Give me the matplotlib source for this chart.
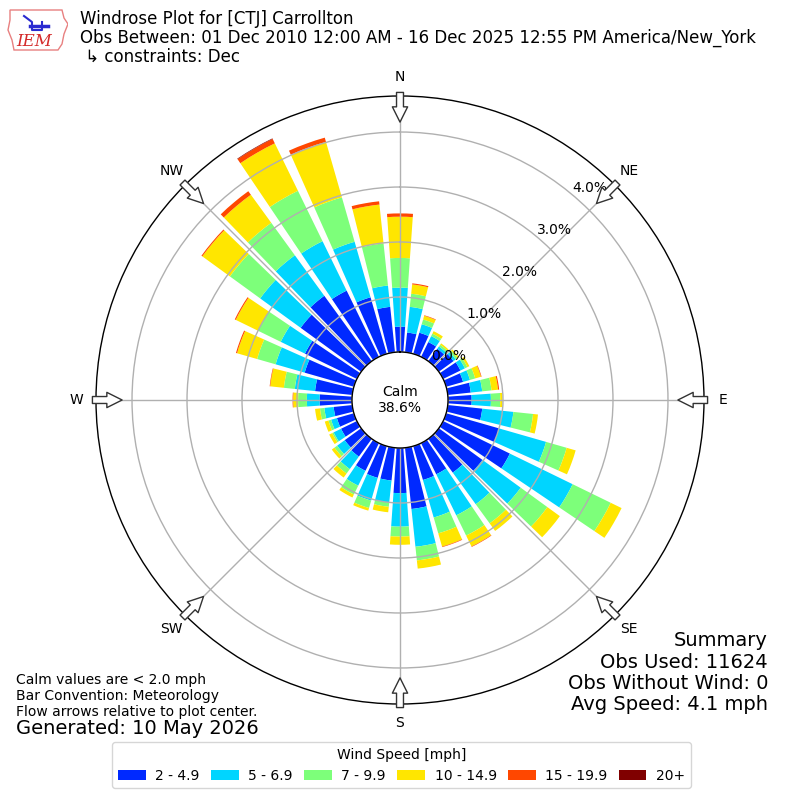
import numpy as np
import matplotlib
matplotlib.use('Agg')
import matplotlib.pyplot as plt
from matplotlib.patches import ArrowStyle, Polygon

# ---------------- data ----------------
directions = np.arange(0, 360, 10)  # degrees, meteorological
speed_labels = ['2 - 4.9', '5 - 6.9', '7 - 9.9', '10 - 14.9', '15 - 19.9', '20+']

# percent of observations per speed bin for each direction
spd_2_5 = [0.46, 0.36, 0.40, 0.30, 0.28, 0.33, 0.35, 0.32, 0.42, 0.43, 0.63, 1.00,
           1.35, 0.98, 0.76, 0.63, 0.64, 1.12, 0.82, 0.60, 0.60, 0.56, 0.40, 0.37,
           0.32, 0.32, 0.34, 0.59, 0.68, 0.93, 1.05, 1.36, 1.47, 1.34, 1.07, 0.83]
spd_5_7 = [0.71, 0.47, 0.16, 0.12, 0.05, 0.05, 0.09, 0.13, 0.21, 0.35, 0.57, 0.89,
           1.27, 0.86, 0.71, 0.83, 0.71, 0.69, 0.61, 0.40, 0.43, 0.30, 0.28, 0.17,
           0.15, 0.11, 0.17, 0.23, 0.37, 0.55, 0.49, 0.91, 0.91, 1.00, 1.05, 0.39]
spd_7_10 = [0.54, 0.24, 0.09, 0.05, 0.04, 0.04, 0.05, 0.10, 0.17, 0.17, 0.36, 0.39,
            0.77, 0.60, 0.43, 0.41, 0.30, 0.25, 0.18, 0.08, 0.14, 0.18, 0.10, 0.06,
            0.03, 0.05, 0.08, 0.16, 0.20, 0.35, 0.46, 0.68, 0.73, 1.02, 0.84, 0.77]
spd_10_15 = [0.75, 0.17, 0.07, 0.05, 0.03, 0.03, 0.04, 0.11, 0.12, 0.04, 0.09, 0.17,
             0.22, 0.28, 0.17, 0.22, 0.25, 0.15, 0.15, 0.10, 0.05, 0.06, 0.09, 0.06,
             0.06, 0.07, 0.09, 0.09, 0.25, 0.38, 0.45, 0.62, 0.63, 0.96, 1.05, 0.71]
spd_15_20 = [0.06, 0.02, 0.01, 0.00, 0.00, 0.00, 0.00, 0.01, 0.02, 0.00, 0.00, 0.00,
             0.00, 0.00, 0.00, 0.01, 0.01, 0.00, 0.00, 0.00, 0.00, 0.00, 0.00, 0.00,
             0.00, 0.00, 0.00, 0.01, 0.01, 0.02, 0.02, 0.02, 0.08, 0.09, 0.08, 0.06]
spd_20p = [0.00, 0.00, 0.00, 0.00, 0.00, 0.00, 0.00, 0.00, 0.00, 0.00, 0.00, 0.00,
           0.00, 0.00, 0.00, 0.00, 0.00, 0.00, 0.00, 0.00, 0.00, 0.00, 0.00, 0.00,
           0.00, 0.00, 0.00, 0.00, 0.00, 0.00, 0.00, 0.00, 0.00, 0.01, 0.00, 0.00]
series = [spd_2_5, spd_5_7, spd_7_10, spd_10_15, spd_15_20, spd_20p]

calm_pct = 38.6
rticks = [0, 1, 2, 3, 4]
compass = ['N', 'NE', 'E', 'SE', 'S', 'SW', 'W', 'NW']

# ---------------- figure ----------------
fig = plt.figure(figsize=(8, 8), dpi=100)
ax = fig.add_axes([0.12, 0.12, 0.76, 0.76], projection='polar')
ax.set_theta_zero_location('N')
ax.set_theta_direction(-1)
ax.set_rorigin(-0.873)
ax.set_ylim(0, 4.655)

colors = plt.cm.jet(np.linspace(0, 1, 7)[1:])
theta = np.radians(directions)
bottom = np.zeros(len(directions))
handles = []
for vals, col, lab in zip(series, colors, speed_labels):
    vals = np.asarray(vals)
    h = ax.bar(theta, vals, width=np.radians(8), bottom=bottom, color=col,
               linewidth=0, label=lab, zorder=1)
    handles.append(h)
    bottom = bottom + vals

ax.set_yticks(rticks)
ax.set_yticklabels([f'{v:.1f}%' for v in rticks], fontsize=10)
ax.set_rlabel_position(40)
ax.set_xticks(np.radians(np.arange(0, 360, 45)))
ax.set_xticklabels(compass, fontsize=10)
ax.tick_params(axis='x', pad=3.5)
ax.grid(True, color='#b0b0b0', linewidth=1)
for sp in ax.spines.values():
    sp.set_color('black')
    sp.set_linewidth(1)

# flow arrows at the rim pointing toward the center
style = ArrowStyle.Simple(head_length=1.1, head_width=1.1, tail_width=0.5)
for ang in np.arange(0, 360, 45):
    t = np.radians(ang)
    ax.annotate('', xy=(t, 4.18), xytext=(t, 4.72), xycoords='data',
                arrowprops=dict(arrowstyle=style, mutation_scale=10,
                                fc='white', ec='#333333', lw=1,
                                shrinkA=0, shrinkB=0),
                annotation_clip=False, zorder=5)

fig.text(0.5, 0.5, f'Calm\n{calm_pct:.1f}%', ha='center', va='center', fontsize=10)

# titles
fig.text(0.1, 0.987,
         'Windrose Plot for [CTJ] Carrollton\n'
         'Obs Between: 01 Dec 2010 12:00 AM - 16 Dec 2025 12:55 PM America/New_York\n'
         ' \u21b3 constraints: Dec',
         ha='left', va='top', fontsize=12, linespacing=1.05)

# simple IEM logo (state outline + text)
logo = fig.add_axes([0.005, 0.935, 0.08, 0.06])
logo.set_xlim(0, 64)
logo.set_ylim(48, 0)
logo.axis('off')
logo.add_patch(Polygon([[6, 6], [58, 6], [60, 14], [64, 20], [60, 30], [58, 40],
                        [54, 46], [10, 46], [8, 36], [4, 26], [6, 16]],
                       closed=True, fill=False, ec='#e88080', lw=1))
logo.plot([20, 28, 28, 38, 38], [12, 18, 26, 26, 18], color='#2a2ad0', lw=1.5)
logo.plot([26, 44], [22, 22], color='#2a2ad0', lw=2.5)
logo.text(30, 37, 'IEM', color='#d42a2a', fontsize=12, family='DejaVu Serif',
          style='italic', ha='center', va='center')

fig.text(0.02, 0.13,
         'Calm values are < 2.0 mph\nBar Convention: Meteorology\n'
         'Flow arrows relative to plot center.',
         ha='left', va='center', fontsize=10, linespacing=1.15)
fig.text(0.02, 0.089, 'Generated: 10 May 2026', ha='left', va='center', fontsize=14)

fig.text(0.96, 0.159,
         'Summary\nObs Used: 11624\nObs Without Wind: 0\nAvg Speed: 4.1 mph',
         ha='right', va='center', fontsize=14, linespacing=1.15)

fig.legend(handles, speed_labels, loc='lower center', bbox_to_anchor=(0.502, 0.006),
           ncol=6, title='Wind Speed [mph]', fontsize=10, title_fontsize=10,
           columnspacing=0.8, handletextpad=0.7)

fig.savefig('out.png', dpi=100)
